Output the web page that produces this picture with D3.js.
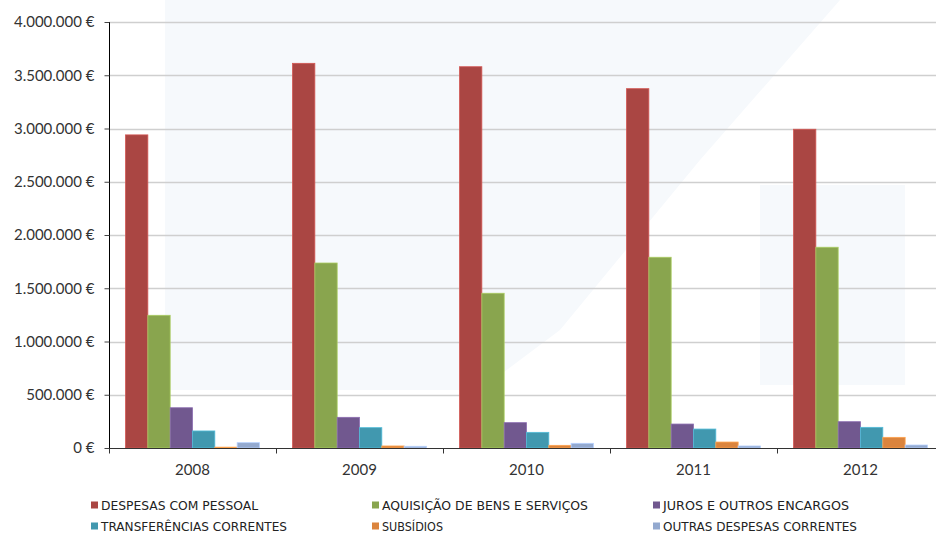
<!DOCTYPE html>
<html lang="pt">
<head>
  <meta charset="UTF-8">
  <title>Despesas correntes 2008-2012</title>
  <style>
    html, body { margin: 0; padding: 0; background: #fff; }
    svg { display: block; }
  </style>
</head>
<body>
<svg id="chart" width="936" height="533"></svg>
<script src="https://d3js.org/d3.v7.min.js"></script>
<script>
  // values (euros)
  const years = ["2008", "2009", "2010", "2011", "2012"];
  const series = [
    "DESPESAS COM PESSOAL",
    "AQUISIÇÃO DE BENS E SERVIÇOS",
    "JUROS E OUTROS ENCARGOS",
    "TRANSFERÊNCIAS CORRENTES",
    "SUBSÍDIOS",
    "OUTRAS DESPESAS CORRENTES"
  ];
  const pessoal       = [2940000, 3612000, 3580000, 3374000, 2993000];
  const aquisicao     = [1246000, 1737000, 1453000, 1791000, 1885000];
  const juros         = [378000, 288000, 238000, 225000, 247000];
  const transferencias = [160000, 191000, 147000, 178000, 194000];
  const subsidios     = [8000, 19000, 25000, 56000, 100000];
  const outras        = [50000, 16000, 44000, 19000, 28000];
  const yTicks = [0, 500000, 1000000, 1500000, 2000000, 2500000, 3000000, 3500000, 4000000];

  const colors = ["#AA4643", "#89A54E", "#71588F", "#4198AF", "#DB843D", "#93A9CF"];
  const allValues = [pessoal, aquisicao, juros, transferencias, subsidios, outras];

  const svg = d3.select("#chart");
  const plotLeft = 109, plotRight = 944, plotTop = 22, plotBottom = 448;

  const pt = d3.formatLocale({ decimal: ",", thousands: ".", grouping: [3], currency: ["", " €"] });
  const fmt = pt.format(",.0f");

  const y = d3.scaleLinear().domain([0, 4000000]).range([plotBottom, plotTop]);
  const x0 = d3.scaleBand().domain(years).range([plotLeft, plotRight]).padding(0);
  const x1 = d3.scaleBand().domain(series).range([0, x0.bandwidth()])
    .paddingInner(0).paddingOuter(0.74);

  // faint watermark logo behind the plot
  const wm = svg.append("g").attr("fill", "#f6f9fc");
  wm.append("polygon").attr("points", "165,0 370,0 370,390 165,390");
  wm.append("polygon").attr("points", "370,0 840,0 700,160 560,330 480,390 370,390");
  wm.append("polygon").attr("points", "760,185 905,185 905,385 760,385");

  // gridlines
  svg.append("g")
    .selectAll("line")
    .data(yTicks.slice(1))
    .join("line")
    .attr("x1", plotLeft).attr("x2", plotRight)
    .attr("y1", d => Math.round(y(d)) + 0.5)
    .attr("y2", d => Math.round(y(d)) + 0.5)
    .attr("stroke", "#cfcfcf")
    .attr("stroke-width", 1.3);

  // bars
  const groups = svg.append("g")
    .selectAll("g")
    .data(years)
    .join("g")
    .attr("transform", d => `translate(${x0(d)},0)`);

  groups.selectAll("rect")
    .data((d, i) => series.map((s, j) => ({ s: s, v: allValues[j][i], c: colors[j] })))
    .join("rect")
    .attr("x", d => x1(d.s))
    .attr("y", d => y(d.v))
    .attr("width", x1.bandwidth())
    .attr("height", d => plotBottom - y(d.v))
    .attr("fill", d => d.c)
    .attr("stroke", d => d3.color(d.c).brighter(0.6))
    .attr("stroke-width", 0.8);

  // y axis
  const yAxis = svg.append("g")
    .attr("transform", `translate(${plotLeft + 0.5},0)`)
    .call(d3.axisLeft(y).tickValues(yTicks).tickSize(5).tickPadding(10)
      .tickFormat(d => fmt(d) + " €"));
  yAxis.select(".domain").attr("stroke", "#000").attr("d", `M0,${plotTop}V${plotBottom}`);
  yAxis.selectAll(".tick line").attr("stroke", "#444");
  yAxis.selectAll(".tick text")
    .attr("fill", "#333")
    .style("font-family", "Lato, 'DejaVu Sans', sans-serif")
    .style("font-size", "15px");

  // x axis
  const xAxis = svg.append("g")
    .attr("transform", `translate(0,${plotBottom + 0.5})`)
    .call(d3.axisBottom(x0).tickSize(0).tickPadding(16));
  xAxis.select(".domain").attr("stroke", "#333").attr("d", `M${plotLeft},0H${plotRight}`);
  xAxis.selectAll(".tick text")
    .attr("fill", "#333")
    .style("font-family", "Lato, 'DejaVu Sans', sans-serif")
    .style("font-size", "15px");
  xAxis.selectAll("line.sep")
    .data(years)
    .join("line")
    .attr("class", "sep")
    .attr("x1", d => Math.round(x0(d)) + 0.5)
    .attr("x2", d => Math.round(x0(d)) + 0.5)
    .attr("y1", 0).attr("y2", 5)
    .attr("stroke", "#333");

  // legend, 3 columns x 2 rows
  const legX = [91, 372, 653];
  const legY = [501, 522];
  const legW = [157, 206, 186, 186, 61, 194];
  const legend = svg.append("g")
    .selectAll("g")
    .data(series)
    .join("g")
    .attr("transform", (d, i) => `translate(${legX[i % 3]},${legY[Math.floor(i / 3)]})`);
  legend.append("rect")
    .attr("width", 7).attr("height", 7).attr("y", 0.5)
    .attr("fill", (d, i) => colors[i]);
  legend.append("text")
    .attr("x", 10).attr("y", 8.5)
    .attr("textLength", (d, i) => legW[i])
    .attr("lengthAdjust", "spacingAndGlyphs")
    .attr("fill", "#222")
    .style("font-family", "'DejaVu Sans', sans-serif")
    .style("font-size", "11.5px")
    .text(d => d);
</script>
</body>
</html>
